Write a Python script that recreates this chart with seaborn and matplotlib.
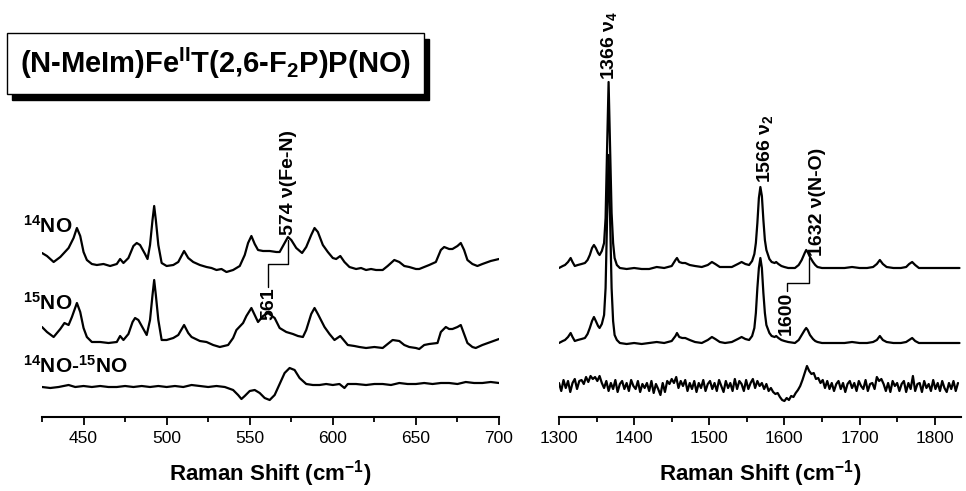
import numpy as np
import matplotlib.pyplot as plt
from matplotlib.patches import Rectangle
from matplotlib.ticker import MultipleLocator
import seaborn as sns

# ---- data (heights above each trace's own baseline) ----
# low-frequency region, 14NO
x_lo_14 = [425, 428, 432, 436, 441, 444, 446, 448, 450, 452,
           455, 458, 462, 466, 470, 472, 474, 477, 480, 482,
           484, 487, 488.5, 490, 491.5, 492.5, 493.5, 495, 497, 500,
           504, 507, 510.5, 513, 516, 520, 524, 527, 530, 533,
           536, 540, 544, 547, 549, 551, 553, 555, 558, 562,
           566, 568, 571, 573, 575, 578, 581.5, 584, 587, 589,
           591, 594, 597, 600, 602, 604.5, 607, 610, 614, 617,
           620, 623, 626, 630, 633, 637, 640, 643, 646, 650,
           652, 655, 658, 662, 665, 667, 670, 672, 675, 677,
           679, 681, 684, 687, 690, 695, 700]
h_lo_14 = [12, 9, 3, 8, 17, 27, 37, 29, 13, 5,
           1, 0, 1, -1, 1, 6, 2, 7, 19, 22,
           20, 11, 6, 20, 45, 59, 45, 20, 2, -1,
           0, 3, 14, 7, 3, 0, -2, -3, -5, -4,
           -7, -5, -1, 10, 22, 29, 21, 15, 14, 14,
           13, 13, 22, 28, 25, 17, 12, 18, 30, 37,
           33, 20, 13, 7, 6, 9, 3, -2, -4, -3,
           -5, -4, -5, -5, -1, 5, 3, -1, -2, -4,
           -4, -2, 0, 3, 15, 18, 16, 16, 19, 22,
           15, 5, 1, -1, 1, 4, 6]

# low-frequency region, 15NO
x_lo_15 = [425, 428, 432, 436, 438.5, 441, 443, 446, 448, 450,
           452, 455, 460, 465, 470, 472, 474, 477, 479.5, 481,
           483, 486, 488, 490, 491.5, 492.5, 493.5, 495, 497, 500,
           504, 507, 510.5, 513, 515, 520, 524, 528, 532, 537,
           540, 542, 546, 548, 551, 553, 555, 558, 561, 565,
           568, 572, 576, 579, 582, 584, 587, 589, 591, 595,
           598, 601, 604.5, 607, 609, 613, 616, 620, 625, 630,
           633, 636, 640, 643, 646, 650, 652, 655, 658, 663,
           665, 668, 670, 672, 675, 677, 679, 681, 684, 686,
           690, 695, 700]
h_lo_15 = [15, 10, 5, 13, 19, 17, 25, 39, 30, 14,
           5, 0, 0, -1, 0, 6, 2, 8, 20, 24,
           22, 13, 7, 22, 47, 62, 47, 22, 2, 2,
           4, 7, 17, 9, 5, 1, 0, -3, -5, -3,
           4, 12, 19, 26, 34, 27, 20, 26, 29, 24,
           14, 10, 8, 6, 5, 12, 28, 34, 28, 15,
           8, 2, 6, 1, -3, -4, -5, -6, -5, -6,
           -2, 2, 1, -3, -5, -6, -7, -3, -2, -1,
           10, 15, 13, 13, 15, 17, 8, -1, -5, -6,
           -3, 0, 3]

# low-frequency region, 14NO - 15NO difference
x_lo_diff = [425, 430, 435, 441, 445, 450, 455, 460, 465, 470,
             475, 480, 485, 490, 495, 500, 505, 510, 515, 520,
             525, 530, 535, 540, 543, 545, 547, 550, 553, 556,
             559, 562, 565, 568, 571, 574, 577, 580, 584, 588,
             592, 596, 600, 604, 607, 609, 614, 620, 625, 630,
             635, 640, 645, 650, 655, 660, 665, 670, 675, 680,
             685, 690, 695, 700]
h_lo_diff = [0, -1, 0, 2, 0, 1, 0, 1, 0, 0,
             1, 0, 1, 0, 1, 0, 1, 0, 2, 1,
             0, 1, 0, -3, -8, -12, -9, -4, -3, -6,
             -11, -13, -8, 3, 14, 19, 17, 9, 3, 2,
             2, 3, 2, 3, -1, 3, 3, 2, 3, 3,
             2, 4, 3, 3, 4, 3, 4, 4, 3, 5,
             4, 4, 5, 4]

# high-frequency region, shared sampling for 14NO / 15NO
x_hi = [1300, 1305, 1308, 1312, 1315.5, 1318, 1321, 1325, 1330, 1334.5,
        1338, 1341, 1344, 1346.5, 1349, 1352, 1354, 1357, 1360, 1362,
        1364, 1366, 1368, 1370, 1372, 1374, 1377, 1381, 1390, 1400,
        1410, 1420, 1430, 1440, 1450, 1455, 1457, 1460, 1464, 1468,
        1474, 1481, 1490, 1498, 1503.5, 1508, 1514, 1521, 1530, 1538,
        1543, 1548, 1553, 1557, 1560, 1562, 1564, 1566, 1568, 1570,
        1572, 1574, 1576, 1580, 1583, 1587, 1589, 1592, 1596, 1600,
        1605, 1614, 1619, 1623, 1627, 1629, 1631, 1634, 1638, 1641,
        1644, 1650, 1660, 1670, 1680, 1690, 1700, 1710, 1718, 1723,
        1727, 1731, 1736, 1745, 1755, 1762, 1766, 1770, 1774, 1779,
        1790, 1800, 1810, 1820, 1833]
h_hi_14 = [0, 2, 3, 6, 10, 6, 2, 3, 4, 5,
           8, 13, 20, 23, 20, 15, 13, 17, 25, 50,
           120, 186, 120, 55, 25, 10, 3, 0, -1, 0,
           -1, -1, 1, 0, 2, 8, 10, 6, 5, 5,
           3, 2, 1, 3, 6, 4, 1, 1, 1, 4,
           6, 4, 3, 7, 14, 25, 45, 70, 81, 72,
           48, 28, 18, 9, 6, 5, 6, 4, 2, 1,
           0, 0, 3, 8, 15, 18, 16, 11, 6, 3,
           1, 0, 0, 0, 0, 1, 0, 0, 1, 4,
           8, 4, 1, 0, 0, 1, 4, 6, 3, 0,
           0, 0, 0, 0, 0]
h_hi_15 = [0, 2, 3, 6, 10, 6, 2, 3, 4, 5,
           9, 15, 22, 26, 22, 17, 15, 19, 28, 55,
           125, 188, 125, 55, 22, 8, 3, 0, -1, 0,
           -1, 0, 1, 0, 2, 7, 10, 6, 5, 5,
           3, 1, 0, 3, 6, 4, 1, 0, 1, 4,
           6, 4, 3, 7, 15, 30, 55, 75, 85, 75,
           50, 30, 18, 10, 7, 6, 7, 5, 3, 2,
           1, 0, 3, 8, 13, 15, 13, 8, 4, 2,
           1, 0, 0, 0, 0, 1, 0, 0, 1, 3,
           7, 3, 1, 0, 0, 1, 3, 5, 2, 0,
           0, 0, 0, 0, 0]

# high-frequency difference trace (noisy), one value every 3 cm-1 from 1300
h_hi_diff = [3, -5, 6, -2, 5, -6, 3, 7, -3, 5,
             6, 2, 9, 4, 10, 7, 9, 5, 10, 3,
             -2, 5, -5, 3, -3, 6, -6, 2, 5, -3,
             3, -5, 6, 0, -3, 5, -6, 2, -2, 3,
             -5, 5, -7, 2, -3, -9, 3, -6, 5, 2,
             7, 3, 9, -2, 5, 0, 6, -5, 3, -3,
             5, -6, 3, -2, 6, -5, 2, 5, -3, 3,
             -5, 6, 0, -6, 5, -2, 3, -5, 7, -3,
             5, 2, -5, 6, -3, 3, 7, -2, 5, 0,
             3, -3, 2, -5, -2, -6, -8, -7, -11, -14,
             -15, -12, -14, -10, -11, -7, -4, 0, 6, 13,
             20, 15, 12, 13, 7, 8, 3, 6, -2, 5,
             -3, 3, -5, 2, 5, -3, 3, -6, 2, 5,
             -2, 3, -5, 5, 0, -3, 6, -5, 2, 3,
             -3, 9, 5, 7, 2, -5, 3, -6, 5, 0,
             3, -5, 2, 5, -6, 3, -3, 10, -5, 2,
             3, -6, 5, -2, 2, -5, 6, -3, 3, -5,
             5, -2, -6, 3, -3, 5, -5, 3]
x_hi_diff = np.arange(1300, 1834, 3)

lo_ticks = [450, 500, 550, 600, 650, 700]
hi_ticks = [1300, 1400, 1500, 1600, 1700, 1800]

# vertical stacking of traces (14NO, 15NO, difference)
off_lo = [226, 149, 104]
off_hi = [223, 148, 105]

sns.set_theme(style="white")
plt.rcParams['font.family'] = ['Liberation Sans', 'DejaVu Sans']
plt.rcParams['mathtext.fontset'] = 'custom'
plt.rcParams['mathtext.rm'] = 'Liberation Sans'
plt.rcParams['mathtext.bf'] = 'Liberation Sans:bold'
plt.rcParams['mathtext.it'] = 'Liberation Sans:italic'
plt.rcParams['text.color'] = 'black'
plt.rcParams['axes.labelcolor'] = 'black'

W, H = 966, 491
fig = plt.figure(figsize=(W / 100, H / 100), dpi=100)
axL = fig.add_axes([42 / W, 1 - 417 / H, 457 / W, 417 / H])
axR = fig.add_axes([559 / W, 1 - 417 / H, 402 / W, 417 / H])


def trace(ax, x, h, off):
    sns.lineplot(x=x, y=np.asarray(h) + off, ax=ax, color='black',
                 lw=1.6, errorbar=None)


trace(axL, x_lo_14, h_lo_14, off_lo[0])
trace(axL, x_lo_15, h_lo_15, off_lo[1])
trace(axL, x_lo_diff, h_lo_diff, off_lo[2])
trace(axR, x_hi, h_hi_14, off_hi[0])
trace(axR, x_hi, h_hi_15, off_hi[1])
trace(axR, x_hi_diff, h_hi_diff, off_hi[2])

xlabel = r'Raman Shift (cm$^{\mathbf{-1}}$)'
for ax in (axL, axR):
    ax.set_ylim(74, 491)
    ax.set_yticks([])
    ax.set_ylabel('')
    ax.patch.set_alpha(0)
    for s in ('left', 'right', 'top'):
        ax.spines[s].set_visible(False)
    ax.spines['bottom'].set_linewidth(1.5)
    ax.spines['bottom'].set_color('black')
    ax.tick_params(axis='x', which='major', bottom=True, direction='out',
                   length=6, width=1.3, labelsize=12.5, pad=4,
                   colors='black')
    ax.tick_params(axis='x', which='minor', bottom=True, direction='out',
                   length=3.5, width=1.3, colors='black')
    ax.set_xlabel(xlabel, fontsize=16, fontweight='bold', labelpad=9,
                  color='black')

axL.set_xlim(425, 700)
axL.set_xticks(lo_ticks)
axL.xaxis.set_minor_locator(MultipleLocator(25))
axR.set_xlim(1300, 1835)
axR.set_xticks(hi_ticks)
axR.xaxis.set_minor_locator(MultipleLocator(50))

# trace labels
lab = dict(fontsize=15, fontweight='bold', ha='left', va='baseline',
           color='black', clip_on=False)
axL.text(413.5, 258, r'$^{\mathbf{14}}$NO', **lab)
axL.text(413.5, 181, r'$^{\mathbf{15}}$NO', **lab)
axL.text(413.5, 118, r'$^{\mathbf{14}}$NO-$^{\mathbf{15}}$NO', **lab)

# band assignments
ann = dict(fontsize=14, fontweight='bold', rotation=90, ha='center',
           color='black')
axL.text(573.6, 256, '574 ν(Fe-N)', va='bottom', **ann)
axL.plot([573, 573, 561, 561], [251, 227, 227, 204], color='black', lw=1)
axL.text(561.5, 204, '561', va='top', **ann)

axR.text(1366.5, 411, r'1366 ν$_{\mathbf{4}}$', va='bottom', **ann)
axR.text(1574, 308, r'1566 ν$_{\mathbf{2}}$', va='bottom', **ann)
axR.text(1644, 235, '1632 ν(N-O)', va='bottom', **ann)
axR.plot([1633, 1633, 1603, 1603], [233, 208, 208, 200], color='black', lw=1)
axR.text(1603, 199, '1600', va='top', **ann)

# title box with drop shadow
x0, x1 = 7 / W, 424 / W
y0, y1 = 1 - 94 / H, 1 - 33 / H
fig.add_artist(Rectangle((x0 + 5 / W, y0 - 6 / H), x1 - x0, y1 - y0,
                         transform=fig.transFigure, facecolor='black',
                         edgecolor='black', lw=1))
fig.add_artist(Rectangle((x0, y0), x1 - x0, y1 - y0,
                         transform=fig.transFigure, facecolor='white',
                         edgecolor='black', lw=1))
fig.text((x0 + x1) / 2, (y0 + y1) / 2,
         r'(N-MeIm)Fe$^{\mathbf{II}}$T(2,6-F$_{\mathbf{2}}$P)P(NO)',
         ha='center', va='center', fontsize=21, fontweight='bold',
         color='black')

fig.savefig('out.png', dpi=100)
